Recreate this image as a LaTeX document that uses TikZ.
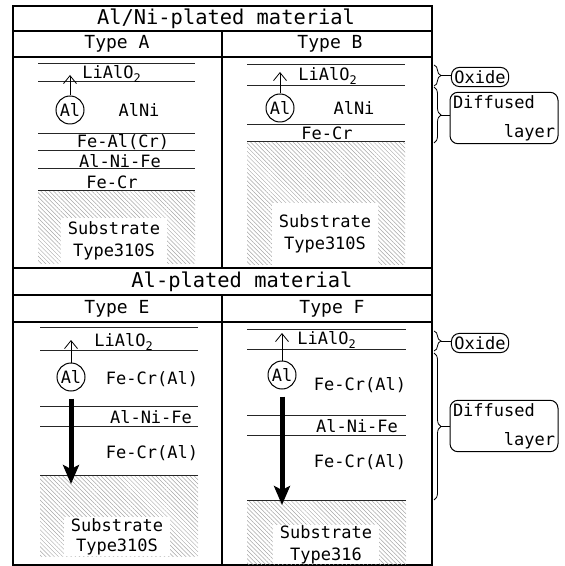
\documentclass[tikz,border=0pt]{standalone}
\usepackage{fontspec}
\setmainfont{DejaVu Sans Mono}
\usepackage{tikz}
\usetikzlibrary{positioning, arrows.meta, patterns.meta, decorations.pathreplacing}

\newcommand{\lbl}{\fontsize{8.5}{11}\selectfont}
\newcommand{\ttl}{\fontsize{10.2}{12}\selectfont}
\newcommand{\tagfont}{\fontsize{8.5}{14.5}\selectfont}

\begin{document}
\begin{tikzpicture}[x=0.5pt, y=-0.5pt,
  layer/.style={font=\lbl, inner sep=0pt},
  heading/.style={font=\ttl, inner sep=0pt},
  typelbl/.style={font=\fontsize{9}{11}\selectfont, inner sep=0pt},
  atom/.style={draw, circle, minimum size=14pt, inner sep=0pt, font=\lbl, line width=0.5pt},
  subst/.style={fill=white, align=center, font=\lbl, inner sep=0.5pt, anchor=south, minimum width=53pt},
  hatch/.style={pattern={Lines[angle=-45, distance=1.5pt, line width=0.25pt]}, pattern color=black!35},
  bound/.style={line width=0.5pt, black!85},
  frame/.style={line width=0.8pt},
  diffarrow/.style={-{Straight Barb[length=4pt,width=6.5pt]}, line width=0.4pt},
  flowarrow/.style={-{Stealth[length=9.5pt,width=8pt,inset=2pt]}, line width=2.5pt},
  tag/.style={draw, rounded corners=4pt, font=\tagfont, inner sep=1.5pt, line width=0.5pt},
  span/.style={decorate, decoration={brace, amplitude=3.5pt}, line width=0.4pt}
]
  \useasboundingbox (0,0) rectangle (565,566);

  % table frame
  \draw[frame] (13,6) rectangle (432,565);
  \foreach \y in {31,57,268,295,322}
    \draw[frame] (13,\y) -- (432,\y);
  \draw[frame] (222,31) -- (222,268);
  \draw[frame] (222,295) -- (222,565);

  \node[heading] (matU) at (226,19) {Al/Ni-plated material};
  \node[typelbl] (typeA) at (117,44) {Type A};
  \node[typelbl] (typeB) at (330,44) {Type B};
  \node[heading] (matL) at (242,282) {Al-plated material};
  \node[typelbl] (typeE) at (117,309) {Type E};
  \node[typelbl] (typeF) at (332,309) {Type F};

  % Type A
  \fill[hatch] (38,191) rectangle (195,264);
  \foreach \y in {64,82,134,151,169,191}
    \draw[bound] (38,\y) -- (195,\y);
  \node[layer] (oxA) at (112,74) {LiAlO\textsubscript{2}};
  \node[atom] (alA) at (70,110) {Al};
  \node[layer] (alniA) at (139,110) {AlNi};
  \node[layer] (fealA) at (123,142) {Fe-Al(Cr)};
  \node[layer] (alnifeA) at (120,161) {Al-Ni-Fe};
  \node[layer] (fecrA) at (112,182) {Fe-Cr};
  \node[subst, minimum height=23pt] (subA) at (114,264) {Substrate\\Type310S};
  \coordinate (upA) at (70,75);
  \draw[diffarrow] (alA) -- (upA);

  % Type B
  \fill[hatch] (247,142) rectangle (405,265);
  \foreach \y in {65,86,125,142}
    \draw[bound] (247,\y) -- (405,\y);
  \node[layer] (oxB) at (328,76) {LiAlO\textsubscript{2}};
  \node[atom] (alB) at (280,108) {Al};
  \node[layer] (alniB) at (354,108) {AlNi};
  \node[layer] (fecrB) at (327,133) {Fe-Cr};
  \node[subst, minimum height=31pt] (subB) at (325,265) {Substrate\\Type310S};
  \coordinate (upB) at (280,72);
  \draw[diffarrow] (alB) -- (upB);

  % Type E
  \fill[hatch] (40,475) rectangle (198,556);
  \foreach \y in {327,350,406,426,475}
    \draw[bound] (40,\y) -- (198,\y);
  \node[layer] (oxE) at (124,342) {LiAlO\textsubscript{2}};
  \node[atom] (alE) at (71,377) {Al};
  \node[layer] (fecrE) at (152,379) {Fe-Cr(Al)};
  \node[layer] (alnifeE) at (151,417) {Al-Ni-Fe};
  \node[layer] (fecrEE) at (152,453) {Fe-Cr(Al)};
  \node[subst, font=\fontsize{8.5}{10}\selectfont] (subE) at (117,556) {Substrate\\Type310S};
  \coordinate (upE) at (71,340);
  \coordinate (downE) at (71,484);
  \draw[diffarrow] (alE) -- (upE);
  \draw[flowarrow, shorten <=3.5pt] (alE) -- (downE);

  % Type F
  \fill[hatch] (247,500) rectangle (406,564);
  \foreach \y in {329,349,415,435,500}
    \draw[bound] (247,\y) -- (406,\y);
  \node[layer] (oxF) at (327,340) {LiAlO\textsubscript{2}};
  \node[atom] (alF) at (282,375) {Al};
  \node[layer] (fecrF) at (360,385) {Fe-Cr(Al)};
  \node[layer] (alnifeF) at (357,426) {Al-Ni-Fe};
  \node[layer] (fecrFF) at (360,462) {Fe-Cr(Al)};
  \node[subst, inner sep=0pt] (subF) at (326,564) {Substrate\\Type316};
  \coordinate (upF) at (282,333);
  \coordinate (downF) at (282,505);
  \draw[diffarrow] (alF) -- (upF);
  \draw[flowarrow, shorten <=3.5pt] (alF) -- (downF);

  % brackets, upper
  \draw[span] (434,65) -- (434,86);
  \draw[span] (434,87) -- (434,143);
  \coordinate (oxTipU) at (441,75.5);
  \coordinate (difTipU) at (441,115);
  \node[tag] (oxU) at (480,77) {Oxide};
  \node[tag, text width=51pt, align=left] (difU) at (504,118) {Diffused\\\hfill layer};
  \draw[line width=0.4pt] (oxTipU) -- (oxTipU -| oxU.west);
  \draw[line width=0.4pt] (difTipU) -- (difTipU -| difU.west);

  % brackets, lower
  \draw[span] (434,331) -- (434,351);
  \draw[span] (434,353) -- (434,500);
  \coordinate (oxTipL) at (441,341);
  \coordinate (difTipL) at (441,426.5);
  \node[tag] (oxL) at (480,343) {Oxide};
  \node[tag, text width=51pt, align=left] (difL) at (504,426) {Diffused\\\hfill layer};
  \draw[line width=0.4pt] (oxTipL) -- (oxTipL -| oxL.west);
  \draw[line width=0.4pt] (difTipL) -- (difTipL -| difL.west);
\end{tikzpicture}
\end{document}
